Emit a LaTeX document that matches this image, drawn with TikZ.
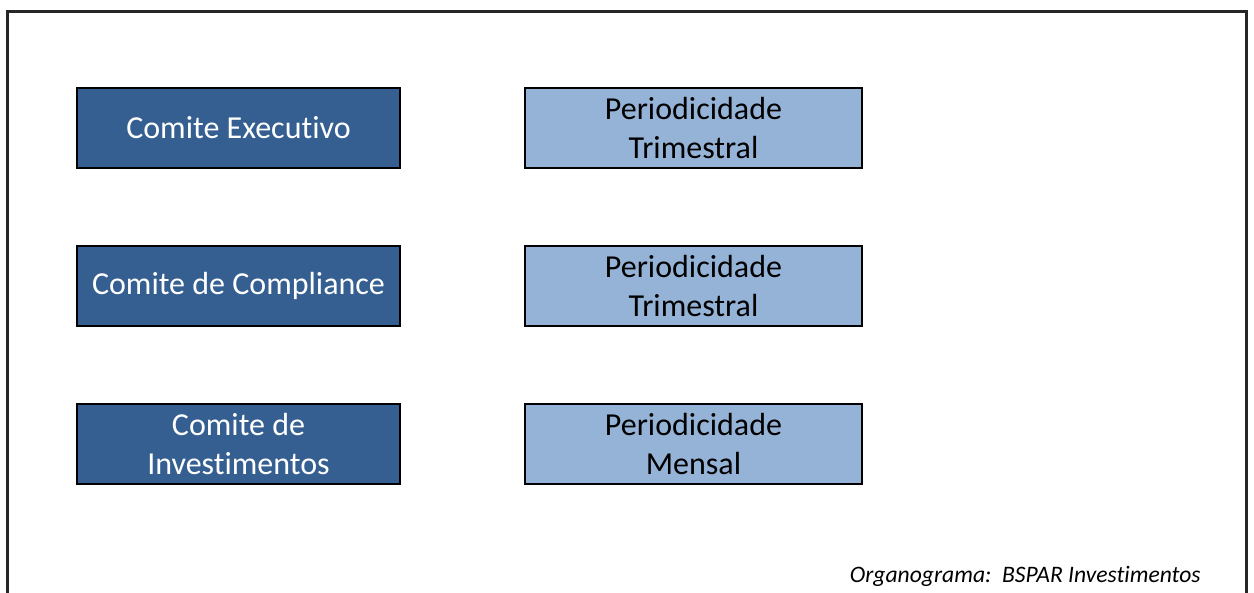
\documentclass[tikz,border=0pt]{standalone}
\usepackage{fontspec}
\setmainfont{Carlito}[Ligatures={CommonOff}]
\definecolor{darkbox}{HTML}{365F91}
\definecolor{lightbox}{HTML}{95B3D7}
\begin{document}
\begin{tikzpicture}[x=0.5pt,y=-0.5pt,
  base/.style={draw=black, line width=0.9pt, minimum width=#1*0.5pt, minimum height=40pt, inner sep=0pt, align=center,
    font=\fontsize{16}{19.5}\selectfont},
  dark/.style={base=323, fill=darkbox, text=white},
  light/.style={base=337, fill=lightbox, text=black}]
\useasboundingbox (0,0) rectangle (1254,593);
\fill[white] (0,0) rectangle (1254,593);
% frame
\coordinate (fbl) at (7,593);
\coordinate (ftl) at (7,11.5);
\coordinate (ftr) at (1246,11.5);
\coordinate (fbr) at (1246,593);
\draw[line width=1.5pt, black!85] (fbl) -- (ftl) -- (ftr) -- (fbr);
% boxes
\node[dark]  (ce) at (238.5,128) {Comite Executivo};
\node[dark]  (cc) at (238.5,286) {Comite de Compliance};
\node[dark]  (ci) at (238.5,444) {Comite de\\Investimentos};
\node[light] (p1) at (693.5,128) {Periodicidade\\Trimestral};
\node[light] (p2) at (693.5,286) {Periodicidade\\Trimestral};
\node[light] (p3) at (693.5,444) {Periodicidade\\Mensal};
\node[anchor=east, inner sep=0pt, font=\fontsize{11.8}{13}\selectfont\itshape] (cap) at (1201,576) {Organograma:\ \ BSPAR Investimentos};
\end{tikzpicture}
\end{document}
